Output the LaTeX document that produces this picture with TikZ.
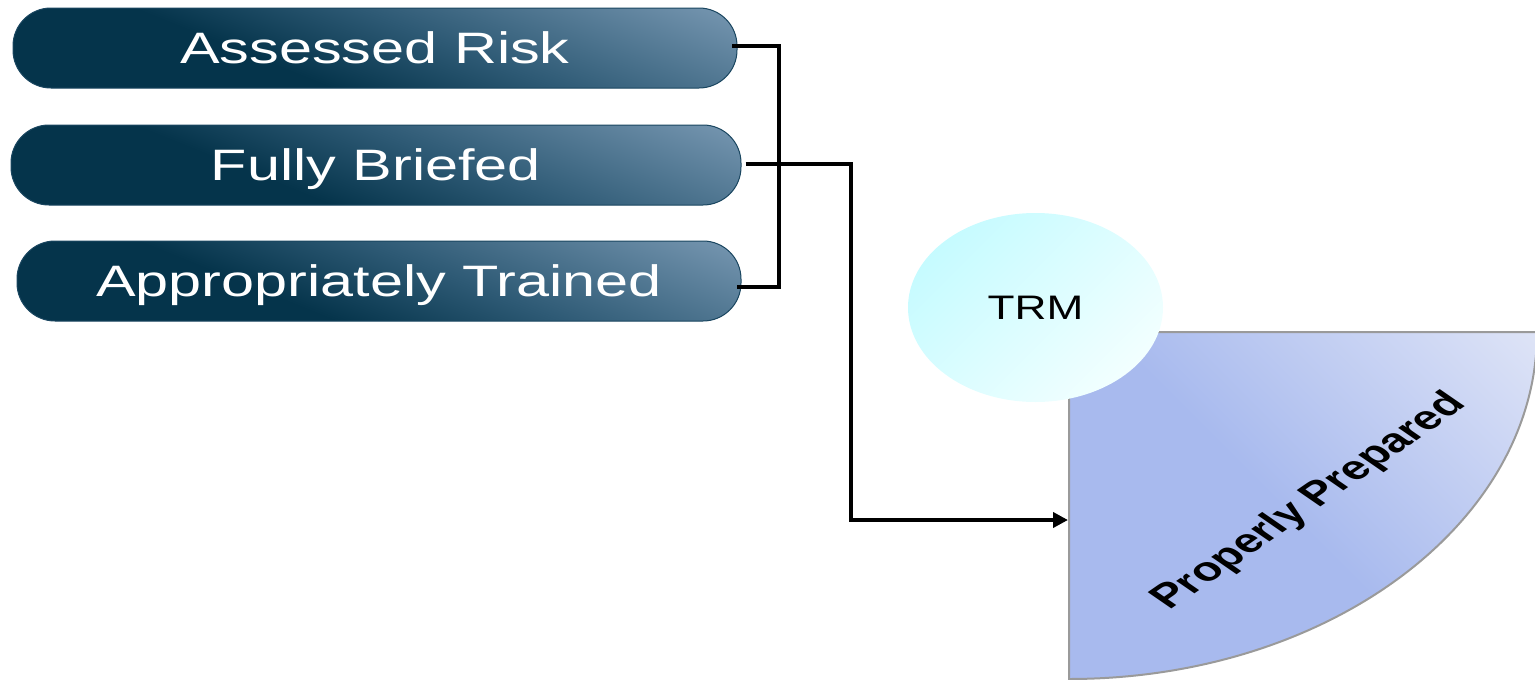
\documentclass[tikz,border=0pt]{standalone}
\usepackage{fontspec}
\usepackage{graphicx}
\setmainfont{Liberation Sans}
\usetikzlibrary{arrows.meta,shapes.geometric,calc}
\definecolor{bdark}{HTML}{05344B}
\definecolor{bmid}{HTML}{2E5A75}
\definecolor{blight}{HTML}{A8C0DA}
\definecolor{bedge}{HTML}{1A4660}
\definecolor{ecyan}{HTML}{C6FBFF}
\definecolor{ewhite}{HTML}{F2FFFF}
\definecolor{pdark}{HTML}{A8BAEE}
\definecolor{plight}{HTML}{F3F4FA}
\definecolor{pedge}{HTML}{9A9A9A}
\pgfdeclarehorizontalshading{boxshade}{100bp}{color(0bp)=(bdark); color(40bp)=(bdark); color(56bp)=(bmid); color(100bp)=(blight)}
\pgfdeclarehorizontalshading{pieshade}{100bp}{color(0bp)=(pdark); color(48bp)=(pdark); color(100bp)=(plight)}
\newcommand{\wide}[2][1.35]{\scalebox{#1}[1]{#2}}
\tikzset{
  pill/.style={draw=bedge, line width=1pt, rounded corners=38pt, shading=boxshade, shading angle=68,
    minimum height=80pt, text=white, font=\fontsize{44}{50}\selectfont,
    text height=31.5pt, text depth=0pt, inner sep=0pt},
  conn/.style={line width=4pt},
}
\begin{document}
\begin{tikzpicture}[x=1pt,y=-1pt]
\useasboundingbox (0,0) rectangle (1535,680);
% pie shape
\begin{scope}
\clip (0,0) rectangle (1535,680);
\path[shading=pieshade, shading angle=45, draw=pedge, line width=2pt]
  (1069,332) -- (1537,332) arc[start angle=0, end angle=90, x radius=468, y radius=347] -- cycle;
\end{scope}
\coordinate (pp) at (1068,520);
% boxes
\node[pill, minimum width=724pt] (b1) at (375,48) {\wide{Assessed Risk}};
\node[pill, minimum width=730pt] (b2) at (376,165) {\wide{Fully Briefed}};
\node[pill, minimum width=724pt] (b3) at (379,281) {\wide{Appropriately Trained}};
% TRM ellipse
\node[ellipse, minimum width=255pt, minimum height=189pt, top color=ecyan, bottom color=ewhite, shading angle=45,
  font=\fontsize{34}{40}\selectfont, text height=24pt, text depth=0pt, inner sep=0pt] (trm) at (1035.5,307.5) {\wide[1.3]{TRM}};
% rotated label
\begin{scope}[shift={(1310,502)}, xscale=1.45]
\node[rotate=45, transform shape, font=\fontsize{33.5}{40}\selectfont\bfseries] (pl) at (0,0) {Properly Prepared};
\end{scope}
% connectors
\draw[conn, line cap=rect] ([xshift=-4pt,yshift=2pt]b1.east) -- ++(45,0) |- ([xshift=-3pt,yshift=-6pt]b3.east);
\draw[conn, -{Triangle[length=15pt,width=15pt]}] ([xshift=4pt,yshift=1pt]b2.east) -- ++(105,0) |- (pp);
\end{tikzpicture}
\end{document}
